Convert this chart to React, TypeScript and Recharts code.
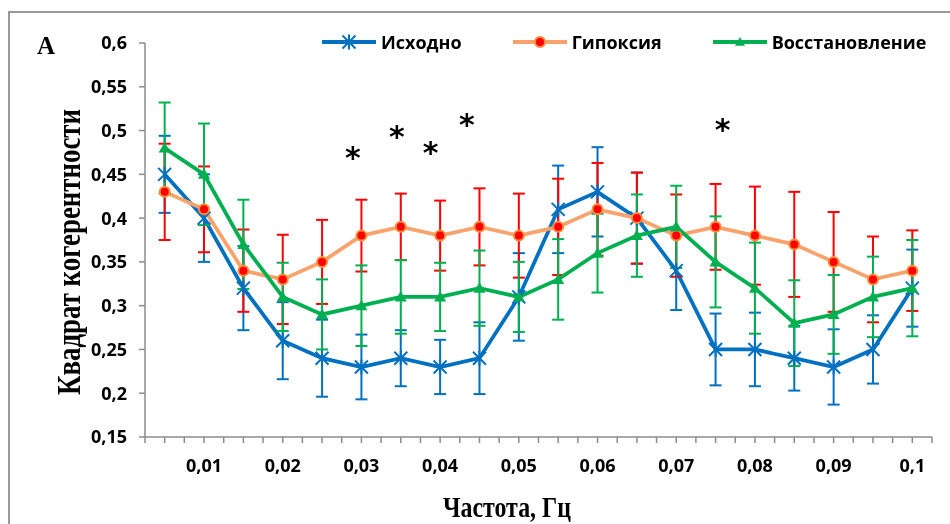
import React from 'react';
import { LineChart, Line, XAxis, YAxis, ErrorBar, Legend, ReferenceDot } from 'recharts';

// frequency, Hz (category centres)
const freq = [0.005, 0.01, 0.015, 0.02, 0.025, 0.03, 0.035, 0.04, 0.045, 0.05,
  0.055, 0.06, 0.065, 0.07, 0.075, 0.08, 0.085, 0.09, 0.095, 0.1];

const baseline = [0.45, 0.40, 0.32, 0.26, 0.24, 0.23, 0.24, 0.23, 0.24, 0.31,
  0.41, 0.43, 0.40, 0.34, 0.25, 0.25, 0.24, 0.23, 0.25, 0.32];
const baselineErr = [0.044, 0.05, 0.048, 0.044, 0.044, 0.037, 0.032, 0.031, 0.041, 0.05,
  0.05, 0.051, 0.052, 0.045, 0.041, 0.042, 0.037, 0.043, 0.039, 0.044];

const hypoxia = [0.43, 0.41, 0.34, 0.33, 0.35, 0.38, 0.39, 0.38, 0.39, 0.38,
  0.39, 0.41, 0.40, 0.38, 0.39, 0.38, 0.37, 0.35, 0.33, 0.34];
const hypoxiaErr = [0.055, 0.049, 0.047, 0.051, 0.048, 0.041, 0.038, 0.04, 0.044, 0.048,
  0.055, 0.053, 0.052, 0.047, 0.049, 0.056, 0.06, 0.057, 0.049, 0.046];

const recovery = [0.48, 0.45, 0.37, 0.31, 0.29, 0.30, 0.31, 0.31, 0.32, 0.31,
  0.33, 0.36, 0.38, 0.39, 0.35, 0.32, 0.28, 0.29, 0.31, 0.32];
const recoveryErr = [0.052, 0.058, 0.051, 0.039, 0.04, 0.046, 0.042, 0.039, 0.043, 0.04,
  0.046, 0.045, 0.047, 0.047, 0.052, 0.052, 0.049, 0.045, 0.046, 0.055];

// significance marks (*)
const starFreq = [0.0289, 0.0345, 0.0388, 0.0434, 0.0759];
const starLevel = [0.476, 0.4995, 0.481, 0.513, 0.507];

const yTicks = [0.15, 0.2, 0.25, 0.3, 0.35, 0.4, 0.45, 0.5, 0.55, 0.6];
const xLabelTicks = [0.01, 0.02, 0.03, 0.04, 0.05, 0.06, 0.07, 0.08, 0.09, 0.1];
// minor tick marks every half category
const xTicks = Array.from({ length: 41 }, (_, i) => +(0.0025 + i * 0.0025).toFixed(4));

const data = freq.map((f, i) => ({
  f,
  base: baseline[i], baseErr: baselineErr[i],
  hyp: hypoxia[i], hypErr: hypoxiaErr[i],
  rec: recovery[i], recErr: recoveryErr[i],
}));

const BLUE = '#0070C0';
const ORANGE = '#F9A26C';
const RED = '#FF0000';
const GREEN = '#00B050';
const AXIS = '#8c8c8c';
const SANS = '"Open Sans", Arial, sans-serif';
const SERIF = '"Liberation Serif", "Times New Roman", serif';

const StarMark = ({ cx, cy, s = 6.5 }: any) => (
  <g stroke={BLUE} strokeWidth={2}>
    <line x1={cx - s} y1={cy - s} x2={cx + s} y2={cy + s} />
    <line x1={cx - s} y1={cy + s} x2={cx + s} y2={cy - s} />
    <line x1={cx} y1={cy - s - 1} x2={cx} y2={cy + s + 1} />
  </g>
);
const CircleMark = ({ cx, cy }: any) => (
  <circle cx={cx} cy={cy} r={5} fill={RED} stroke="#FF8C3A" strokeWidth={2} />
);
const TriangleMark = ({ cx, cy, s = 6 }: any) => (
  <path d={`M${cx},${cy - s} L${cx + s},${cy + s * 0.75} L${cx - s},${cy + s * 0.75} Z`} fill={GREEN} />
);

const series = [
  { name: 'Исходно', color: BLUE, Mark: StarMark },
  { name: 'Гипоксия', color: ORANGE, Mark: CircleMark },
  { name: 'Восстановление', color: GREEN, Mark: TriangleMark },
];

const renderLegend = () => (
  <div style={{ display: 'flex', alignItems: 'center', fontFamily: SANS, fontWeight: 700, fontSize: 18, color: '#000' }}>
    {series.map(({ name, color, Mark }) => (
      <div key={name} style={{ display: 'flex', alignItems: 'center', marginRight: 51 }}>
        <svg width={54} height={18} style={{ marginRight: 5 }}>
          <line x1={0} y1={9} x2={54} y2={9} stroke={color} strokeWidth={4} />
          <Mark cx={27} cy={9} s={name === 'Восстановление' ? 5 : 6.5} />
        </svg>
        <span>{name}</span>
      </div>
    ))}
  </div>
);

const fmtX = (v: number) =>
  xLabelTicks.some((t) => Math.abs(t - v) < 1e-6) ? String(+v.toFixed(2)).replace('.', ',') : '';
const fmtY = (v: number) => String(v).replace('.', ',');

export default function App() {
  return (
    <div style={{ position: 'relative', width: 934, height: 516, background: '#fff' }}>
      <div style={{ position: 'fixed', left: 8, top: 11, width: 980, height: 600, borderLeft: '2px solid #999', borderTop: '2px solid #999' }} />
      <LineChart width={934} height={516} data={data} margin={{ top: 35, right: 10, left: 0, bottom: 47 }}>
        <XAxis
          type="number"
          dataKey="f"
          domain={[0.0025, 0.1025]}
          ticks={xTicks}
          interval={0}
          tickFormatter={fmtX}
          height={40}
          tickSize={6}
          tickMargin={16}
          axisLine={{ stroke: AXIS, strokeWidth: 1.5 }}
          tickLine={{ stroke: AXIS, strokeWidth: 1.5 }}
          tick={{ fontSize: 18, fontWeight: 700, fill: '#000', fontFamily: SANS }}
        />
        <YAxis
          type="number"
          domain={[0.15, 0.6]}
          ticks={yTicks}
          interval={0}
          tickFormatter={fmtY}
          width={137}
          tickSize={6}
          tickMargin={12}
          axisLine={{ stroke: AXIS, strokeWidth: 1.5 }}
          tickLine={{ stroke: AXIS, strokeWidth: 1.5 }}
          tick={{ fontSize: 18, fontWeight: 700, fill: '#000', fontFamily: SANS }}
        />
        <Legend
          layout="horizontal"
          verticalAlign="middle"
          align="center"
          wrapperStyle={{ position: 'absolute', top: 22, left: 314, width: 640 }}
          content={renderLegend}
        />
        <Line type="linear" dataKey="base" name="Исходно" stroke={BLUE} strokeWidth={3.75}
          isAnimationActive={false} activeDot={false}
          dot={(p: any) => <StarMark key={`b${p.index}`} cx={p.cx} cy={p.cy} />}>
          <ErrorBar dataKey="baseErr" direction="y" width={6} strokeWidth={2} stroke={BLUE} isAnimationActive={false} />
        </Line>
        <Line type="linear" dataKey="hyp" name="Гипоксия" stroke={ORANGE} strokeWidth={3.75}
          isAnimationActive={false} activeDot={false}
          dot={(p: any) => <CircleMark key={`h${p.index}`} cx={p.cx} cy={p.cy} />}>
          <ErrorBar dataKey="hypErr" direction="y" width={6} strokeWidth={2} stroke={RED} isAnimationActive={false} />
        </Line>
        <Line type="linear" dataKey="rec" name="Восстановление" stroke={GREEN} strokeWidth={3.75}
          isAnimationActive={false} activeDot={false}
          dot={(p: any) => <TriangleMark key={`r${p.index}`} cx={p.cx} cy={p.cy} />}>
          <ErrorBar dataKey="recErr" direction="y" width={6} strokeWidth={2} stroke={GREEN} isAnimationActive={false} />
        </Line>
        {starFreq.map((f, i) => (
          <ReferenceDot
            key={`s${i}`}
            x={f}
            y={starLevel[i]}
            r={0}
            shape={(p: any) => (
              <text x={p.cx} y={p.cy + 16} textAnchor="middle" fontFamily='"DejaVu Sans", sans-serif'
                fontWeight={700} fontSize={30} fill="#000">*</text>
            )}
          />
        ))}
      </LineChart>
      <svg width={934} height={516} style={{ position: 'absolute', left: 0, top: 0, pointerEvents: 'none' }}>
        <text x={29} y={46} fontFamily={SERIF} fontWeight={700} fontSize={25} fill="#000">A</text>
        <text
          transform="translate(72,244) rotate(-90)"
          textAnchor="middle"
          fontFamily={SERIF}
          fontWeight={700}
          fontSize={34}
          textLength={286}
          lengthAdjust="spacingAndGlyphs"
          fill="#000"
        >
          Квадрат  когерентности
        </text>
        <text
          x={499}
          y={509}
          textAnchor="middle"
          fontFamily={SERIF}
          fontWeight={700}
          fontSize={30}
          textLength={128}
          lengthAdjust="spacingAndGlyphs"
          fill="#000"
        >
          Частота, Гц
        </text>
      </svg>
    </div>
  );
}
